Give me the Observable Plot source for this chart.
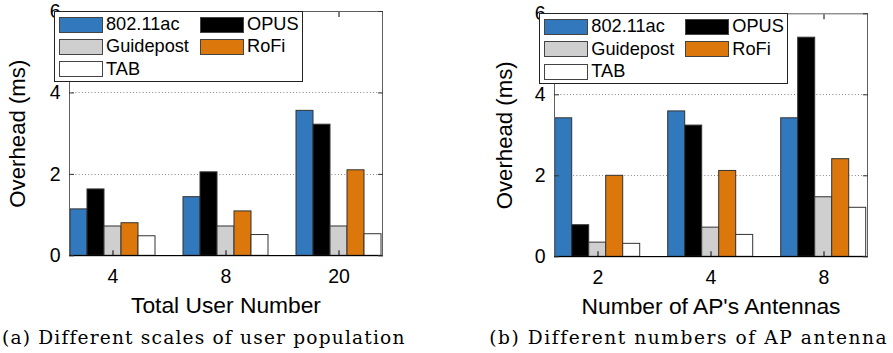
<!DOCTYPE html>
<html><head><meta charset="utf-8">
<script src="https://cdn.jsdelivr.net/npm/d3@7"></script>
<script src="https://cdn.jsdelivr.net/npm/@observablehq/plot@0.6"></script>
<style>
html,body{margin:0;padding:0;background:#fff;overflow:hidden;width:893px;height:353px;position:relative}
.panel{position:absolute;top:0}
.legend{position:absolute;box-sizing:border-box;border:1px solid #222;background:#fff;
  font-family:"Liberation Sans",Arial,sans-serif;color:#000;padding:4px 0 0 4px;
  display:grid;grid-template-columns:141px auto;grid-auto-rows:22.4px}
.item{display:flex;align-items:center;height:17px;line-height:17px;white-space:nowrap}
.sw{box-sizing:border-box;width:44px;height:16px;border:1.2px solid #444;margin-right:3px;flex:none}
.caption{position:absolute;font:18.6px "DejaVu Serif",serif;white-space:nowrap;line-height:22px;color:#000}
</style></head><body>
<div id="a" class="panel" style="left:0"></div>
<div id="b" class="panel" style="left:445px"></div>
<script>
// ---- data ----
const series = ["802.11ac", "OPUS", "Guidepost", "RoFi", "TAB"];
const colors = ["#3179bc", "#000000", "#cfcfcf", "#dc780b", "#ffffff"];
const yTicks = [0, 2, 4, 6];
const gridValues = [2, 4];

const usersGroups = ["4", "8", "20"];
const users80211ac = [1.14, 1.44, 3.56];
const usersOPUS = [1.63, 2.05, 3.22];
const usersGuidepost = [0.72, 0.72, 0.72];
const usersRoFi = [0.80, 1.09, 2.10];
const usersTAB = [0.48, 0.51, 0.53];

const antGroups = ["2", "4", "8"];
const ant80211ac = [3.42, 3.59, 3.42];
const antOPUS = [0.78, 3.24, 5.41];
const antGuidepost = [0.35, 0.72, 1.47];
const antRoFi = [2.00, 2.12, 2.41];
const antTAB = [0.32, 0.54, 1.21];

const xLabelA = "Total User Number";
const xLabelB = "Number of AP's Antennas";
const yLabel = "Overhead (ms)";
const captionA = "(a) Different scales of user population";
const captionB = "(b) Different numbers of AP antenna";

const SANS = '"Liberation Sans", Arial, sans-serif';
const ctx = document.createElement("canvas").getContext("2d");
function fitSize(text, target, family) {
  ctx.font = "100px " + family;
  return 100 * target / ctx.measureText(text).width;
}
const tickSize = fitSize("20", 21.7, SANS);
const yTitleSize = fitSize(yLabel, 148, SANS);
const xTitleSize = fitSize(xLabelA, 190, SANS);

function table(groups, cols) {
  const rows = [];
  groups.forEach((g, i) => series.forEach((s, j) => rows.push({group: g, series: s, value: cols[j][i]})));
  return rows;
}

// full-width horizontal lines drawn through the y scale, spanning all facets
function spanLines(values, attrs) {
  return Plot.frame({
    facet: "super", stroke: "none",
    render(index, scales, v, dims) {
      const g = d3.create("svg:g");
      for (const t of values) {
        const yy = Math.round(scales.y(t)) + 0.5;
        const line = g.append("line")
          .attr("x1", dims.marginLeft).attr("x2", dims.width - dims.marginRight)
          .attr("y1", yy).attr("y2", yy);
        for (const k in attrs) line.attr(k, attrs[k]);
      }
      return g.node();
    }
  });
}

function panel(el, groups, cols, xLabel, m) {
  const data = table(groups, cols);
  const chart = Plot.plot({
    width: m.width, height: 320,
    marginLeft: m.left, marginRight: m.right, marginTop: m.top, marginBottom: m.bottom,
    style: {fontFamily: SANS, fontSize: tickSize + "px", color: "#000", background: "transparent", overflow: "visible"},
    fx: {domain: groups, paddingInner: 0.23, paddingOuter: 0.12},
    x: {domain: series, padding: 0, axis: null},
    y: {domain: [0, 6]},
    color: {domain: series, range: colors},
    marks: [
      spanLines(gridValues, {stroke: "#8a8a8a", "stroke-dasharray": "1,2.2"}),
      Plot.barY(data, {fx: "group", x: "series", y: "value", fill: "series", stroke: "#333", strokeWidth: 1}),
      Plot.frame({facet: "super", stroke: "#606060"}),
      spanLines([0], {stroke: "#000"}),
      Plot.axisY({anchor: "left", ticks: yTicks, tickFormat: d3.format("d"), tickSize: -5, tickPadding: 14, label: null, stroke: "#333"}),
      Plot.axisY({anchor: "right", ticks: yTicks, tickSize: -5, tickFormat: () => "", label: null, stroke: "#333"}),
      Plot.axisFx({anchor: "bottom", tickSize: -5, tickPadding: 18, label: null}),
      Plot.axisFx({anchor: "top", tickSize: -5, tickFormat: () => "", label: null}),
      Plot.text([yLabel], {facet: "super", frameAnchor: "left", textAnchor: "middle", lineAnchor: "middle", rotate: -90, dx: m.yTitleDx, fontSize: yTitleSize}),
      Plot.text([xLabel], {facet: "super", frameAnchor: "bottom", textAnchor: "middle", lineAnchor: "middle", dy: 50, fontSize: xTitleSize})
    ]
  });
  el.appendChild(chart);
  const lg = document.createElement("div");
  lg.className = "legend";
  lg.style.fontSize = "18px";
  lg.style.left = m.left + "px";
  lg.style.top = m.top + "px";
  lg.style.width = "249px";
  lg.style.height = "71px";
  let probe = null;
  series.forEach((s, i) => {
    const it = document.createElement("div");
    it.className = "item";
    const sw = document.createElement("span");
    sw.className = "sw";
    sw.style.background = colors[i];
    it.appendChild(sw);
    const tx = document.createElement("span");
    tx.textContent = s;
    it.appendChild(tx);
    if (s === "Guidepost") probe = tx;
    lg.appendChild(it);
  });
  el.appendChild(lg);
  // calibrate legend text so "Guidepost" spans the width it has in the reference
  const w = probe.getBoundingClientRect().width;
  lg.style.fontSize = (18 * 83 / w) + "px";
}

panel(document.getElementById("a"), usersGroups,
  [users80211ac, usersOPUS, usersGuidepost, usersRoFi, usersTAB], xLabelA,
  {width: 445, left: 54, right: 48, top: 11, bottom: 64.7, yTitleDx: -52});
panel(document.getElementById("b"), antGroups,
  [ant80211ac, antOPUS, antGuidepost, antRoFi, antTAB], xLabelB,
  {width: 448, left: 94.3, right: 12, top: 13.3, bottom: 63.7, yTitleDx: -50});

function caption(text, left, width) {
  const d = document.createElement("div");
  d.className = "caption";
  d.textContent = text;
  d.style.left = left + "px";
  d.style.top = "327px";
  document.body.appendChild(d);
  const w = d.getBoundingClientRect().width;
  d.style.letterSpacing = ((width - w) / text.length) + "px";
}
caption(captionA, 2, 403);
caption(captionB, 489.3, 398.4);
</script>
</body></html>
